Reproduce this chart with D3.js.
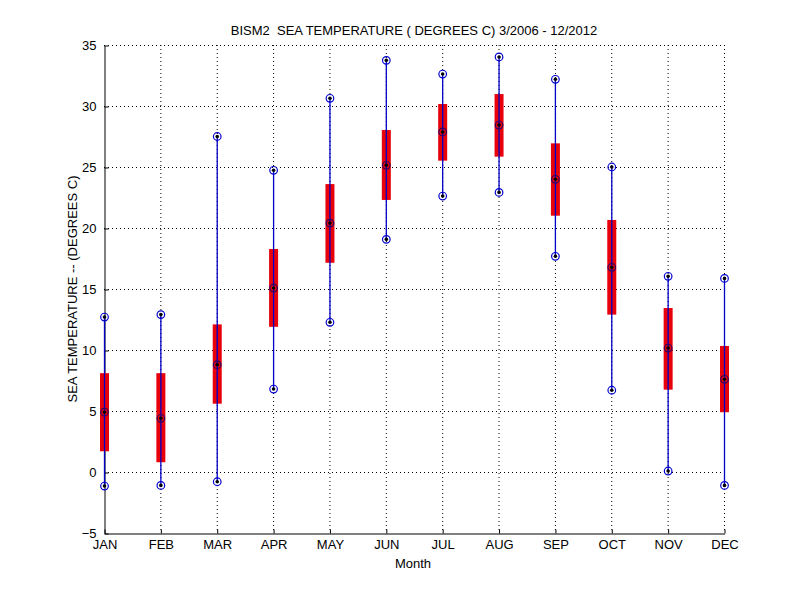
<!DOCTYPE html>
<html>
<head>
<meta charset="utf-8">
<script src="https://cdn.jsdelivr.net/npm/d3@7"></script>
<style>
  body { margin: 0; background: #fff; }
  text { font-family: "Liberation Sans", Arial, sans-serif; fill: #000; }
</style>
</head>
<body>
<div id="chart"></div>
<script>
// monthly sea temperature stats
var months = ["JAN", "FEB", "MAR", "APR", "MAY", "JUN", "JUL", "AUG", "SEP", "OCT", "NOV", "DEC"];
var minTemp = [-1.15, -1.1, -0.8, 6.8, 12.27, 19.07, 22.62, 22.92, 17.68, 6.7, 0.08, -1.1];
var q1Temp = [1.7, 0.8, 5.6, 11.9, 17.15, 22.3, 25.52, 25.85, 21.01, 12.9, 6.75, 4.9];
var medTemp = [4.9, 4.4, 8.8, 15.08, 20.4, 25.14, 27.87, 28.44, 23.99, 16.78, 10.16, 7.6];
var q3Temp = [8.1, 8.1, 12.1, 18.28, 23.6, 28.03, 30.16, 30.98, 26.94, 20.66, 13.44, 10.33];
var maxTemp = [12.7, 12.9, 27.5, 24.73, 30.63, 33.74, 32.62, 34.02, 32.19, 25.0, 16.04, 15.87];
var yTicks = [-5, 0, 5, 10, 15, 20, 25, 30, 35];

var data = months.map(function(m, i) {
  return { month: m, min: minTemp[i], q1: q1Temp[i], med: medTemp[i], q3: q3Temp[i], max: maxTemp[i] };
});

var width = 800, height = 600;
// plot area edges (note: "top" is reserved on window, so use plotTop)
var plotLeft = 104, plotRight = 724, plotTop = 45, plotBottom = 533;

var svg = d3.select("#chart").append("svg")
  .attr("width", width)
  .attr("height", height);

var x = d3.scalePoint().domain(months).range([plotLeft, plotRight]);
var y = d3.scaleLinear().domain([-5, 35]).range([plotBottom, plotTop]);

// dotted grid
svg.selectAll("line.hgrid")
  .data(yTicks.slice(1))
  .enter().append("line")
  .attr("class", "hgrid")
  .attr("x1", plotLeft).attr("x2", plotRight)
  .attr("y1", function(d) { return y(d) + 0.5; })
  .attr("y2", function(d) { return y(d) + 0.5; })
  .attr("stroke", "#000").attr("stroke-width", 1)
  .attr("stroke-dasharray", "1,3");

svg.selectAll("line.vgrid")
  .data(months.slice(1))
  .enter().append("line")
  .attr("class", "vgrid")
  .attr("x1", function(d) { return x(d) + 0.5; })
  .attr("x2", function(d) { return x(d) + 0.5; })
  .attr("y1", plotTop).attr("y2", plotBottom)
  .attr("stroke", "#000").attr("stroke-width", 1)
  .attr("stroke-dasharray", "1,3");

// axes
var yAxis = d3.axisLeft(y).tickValues(yTicks).tickSizeInner(-4).tickSizeOuter(0).tickPadding(8);
var gy = svg.append("g").attr("transform", "translate(" + (plotLeft + 0.5) + ",0.5)").call(yAxis);
var xAxis = d3.axisBottom(x).tickSizeInner(-4).tickSizeOuter(0).tickPadding(8);
var gx = svg.append("g").attr("transform", "translate(0.5," + (plotBottom + 0.5) + ")").call(xAxis);

[gy, gx].forEach(function(g) {
  g.selectAll("text").style("font-family", "'Liberation Sans', Arial, sans-serif").style("font-size", "13px").attr("fill", "#000");
  g.selectAll("line, path").attr("stroke", "#000");
});
gx.selectAll("text").attr("y", 6);

// boxes (interquartile range)
var boxW = 9;
svg.selectAll("rect.box")
  .data(data)
  .enter().append("rect")
  .attr("class", "box")
  .attr("x", function(d) { return x(d.month) - boxW / 2 + 0.5; })
  .attr("y", function(d) { return y(d.q3); })
  .attr("width", boxW)
  .attr("height", function(d) { return y(d.q1) - y(d.q3); })
  .attr("fill", "#e8000b");

// whiskers min to max
svg.selectAll("line.whisker")
  .data(data)
  .enter().append("line")
  .attr("class", "whisker")
  .attr("x1", function(d) { return x(d.month) + 0.5; })
  .attr("x2", function(d) { return x(d.month) + 0.5; })
  .attr("y1", function(d) { return y(d.min); })
  .attr("y2", function(d) { return y(d.max); })
  .attr("stroke", "#0000c8").attr("stroke-width", 1.3);

// markers at min, median and max
var points = [];
data.forEach(function(d) {
  points.push({ month: d.month, v: d.min, onBox: false });
  points.push({ month: d.month, v: d.med, onBox: true });
  points.push({ month: d.month, v: d.max, onBox: false });
});

svg.selectAll("circle.ring")
  .data(points)
  .enter().append("circle")
  .attr("class", "ring")
  .attr("cx", function(d) { return x(d.month) + 0.5; })
  .attr("cy", function(d) { return y(d.v); })
  .attr("r", 3.8)
  .attr("fill", "none")
  .attr("stroke", function(d) { return d.onBox ? "#300060" : "#0000d0"; })
  .attr("stroke-width", 1.2);

svg.selectAll("circle.dot")
  .data(points)
  .enter().append("circle")
  .attr("class", "dot")
  .attr("cx", function(d) { return x(d.month) + 0.5; })
  .attr("cy", function(d) { return y(d.v); })
  .attr("r", 1.8)
  .attr("fill", "#000");

// title and labels
svg.append("text")
  .attr("x", 414).attr("y", 35)
  .attr("text-anchor", "middle")
  .style("font-size", "13px")
  .style("white-space", "pre")
  .text("BISM2  SEA TEMPERATURE ( DEGREES C) 3/2006 - 12/2012");

svg.append("text")
  .attr("x", 413).attr("y", 568)
  .attr("text-anchor", "middle")
  .style("font-size", "13px")
  .text("Month");

svg.append("text")
  .attr("transform", "translate(77," + ((plotTop + plotBottom) / 2) + ") rotate(-90)")
  .attr("text-anchor", "middle")
  .style("font-size", "13px")
  .text("SEA TEMPERATURE -- (DEGREES C)");
</script>
</body>
</html>
